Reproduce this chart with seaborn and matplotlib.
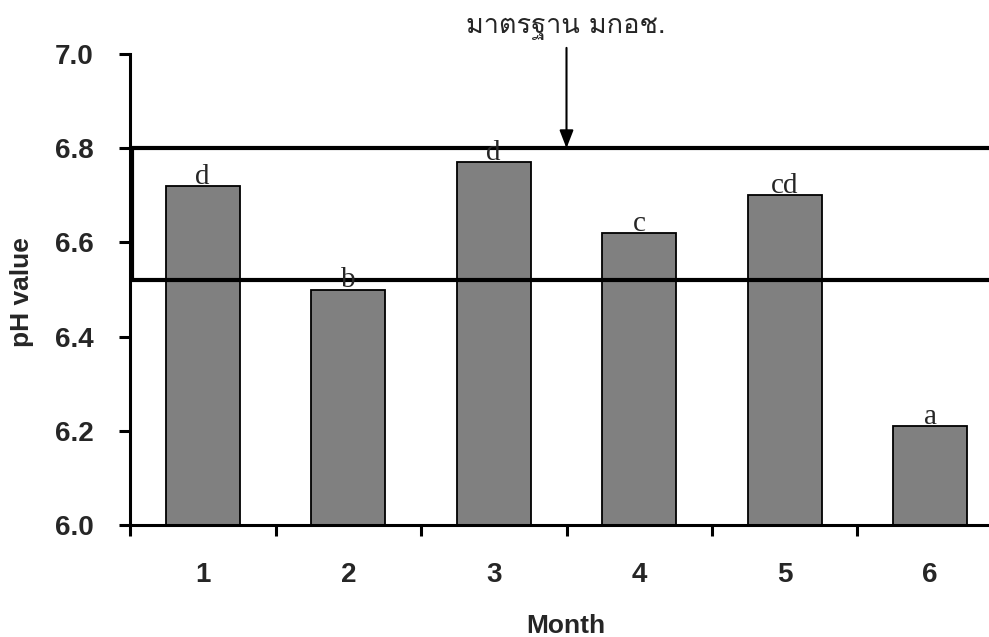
import matplotlib
matplotlib.use("Agg")
import matplotlib.pyplot as plt
import seaborn as sns
import pandas as pd
from matplotlib import font_manager as fm

months = ["1", "2", "3", "4", "5", "6"]
ph_values = [6.72, 6.50, 6.77, 6.62, 6.70, 6.21]
letters = ["d", "b", "d", "c", "cd", "a"]
standard_low = 6.52
standard_high = 6.8
standard_label = "มาตรฐาน มกอช."
y_ticks = [6.0, 6.2, 6.4, 6.6, 6.8, 7.0]

sns.set_theme(style="white")
plt.rcParams['font.family'] = ['Liberation Sans', 'DejaVu Sans']

# find a font with Thai glyphs
thai_font = None
try:
    from fontTools.ttLib import TTFont
    for f in fm.fontManager.ttflist:
        try:
            tt = TTFont(f.fname, fontNumber=0, lazy=True)
            cmap = tt.getBestCmap()
            if cmap and 0x0E21 in cmap and 0x0E10 in cmap:
                thai_font = f.name
                break
        except Exception:
            pass
except Exception:
    pass

df = pd.DataFrame({"Month": months, "pH": ph_values})

fig = plt.figure(figsize=(9.89, 6.37), dpi=100)
ax = fig.add_axes([130/989, (637-525)/637, 873/989, 471/637])

sns.barplot(data=df, x="Month", y="pH", ax=ax, color="#808080",
            width=0.51, edgecolor="black", linewidth=1.3, saturation=1)

ax.set_ylim(6.0, 7.0)
ax.set_xlim(-0.5, 5.5)
ax.set_yticks(y_ticks)
ax.set_yticklabels([f"{v:.1f}" for v in y_ticks], fontsize=20, fontweight="bold")
ax.set_xticks(range(len(months)))
ax.set_xticklabels(months, fontsize=20, fontweight="bold")
ax.set_xticks([i - 0.5 for i in range(len(months) + 1)], minor=True)
ax.tick_params(axis="x", which="major", length=0, pad=27, bottom=True)
ax.tick_params(axis="x", which="minor", length=8, width=2.2, direction="out",
               color="black", bottom=True)
ax.tick_params(axis="y", which="major", length=8, width=2.2, direction="out",
               color="black", pad=18, left=True)

for s in ["top", "right"]:
    ax.spines[s].set_visible(False)
for s in ["left", "bottom"]:
    ax.spines[s].set_linewidth(2.2)
    ax.spines[s].set_color("black")

ax.set_xlabel("")
ax.set_ylabel("")

# standard band
ax.axhline(standard_high, color="black", lw=3, zorder=5)
ax.axhline(standard_low, color="black", lw=3, zorder=5)
ax.plot([-0.488, -0.488], [standard_low, standard_high], color="black", lw=3,
        zorder=6, solid_capstyle="butt")

for i, (v, t) in enumerate(zip(ph_values, letters)):
    ax.annotate(t, xy=(i, v), xytext=(0, 1.5), textcoords="offset points",
                ha="center", va="baseline", fontsize=21,
                family=["Liberation Serif", "DejaVu Serif"], zorder=7)

ax.annotate("", xy=(2.5, standard_high), xytext=(2.5, 7.013),
            arrowprops=dict(arrowstyle="-|>,head_width=0.35,head_length=0.9",
                            color="black", lw=1.5, shrinkA=0, shrinkB=0),
            annotation_clip=False, zorder=8)

tfam = [thai_font, "DejaVu Sans"] if thai_font else ["DejaVu Sans"]
fig.text(566/989, 1 - 28/637, standard_label, ha="center", va="center",
         fontsize=19.5, family=tfam)

fig.text(22/989, 1 - 292/637, "pH value", rotation=90, ha="center", va="center",
         fontsize=19, fontweight="bold")
fig.text(566/989, 1 - 633/637, "Month", ha="center", va="baseline",
         fontsize=19, fontweight="bold")

fig.savefig("out.png", dpi=100)
